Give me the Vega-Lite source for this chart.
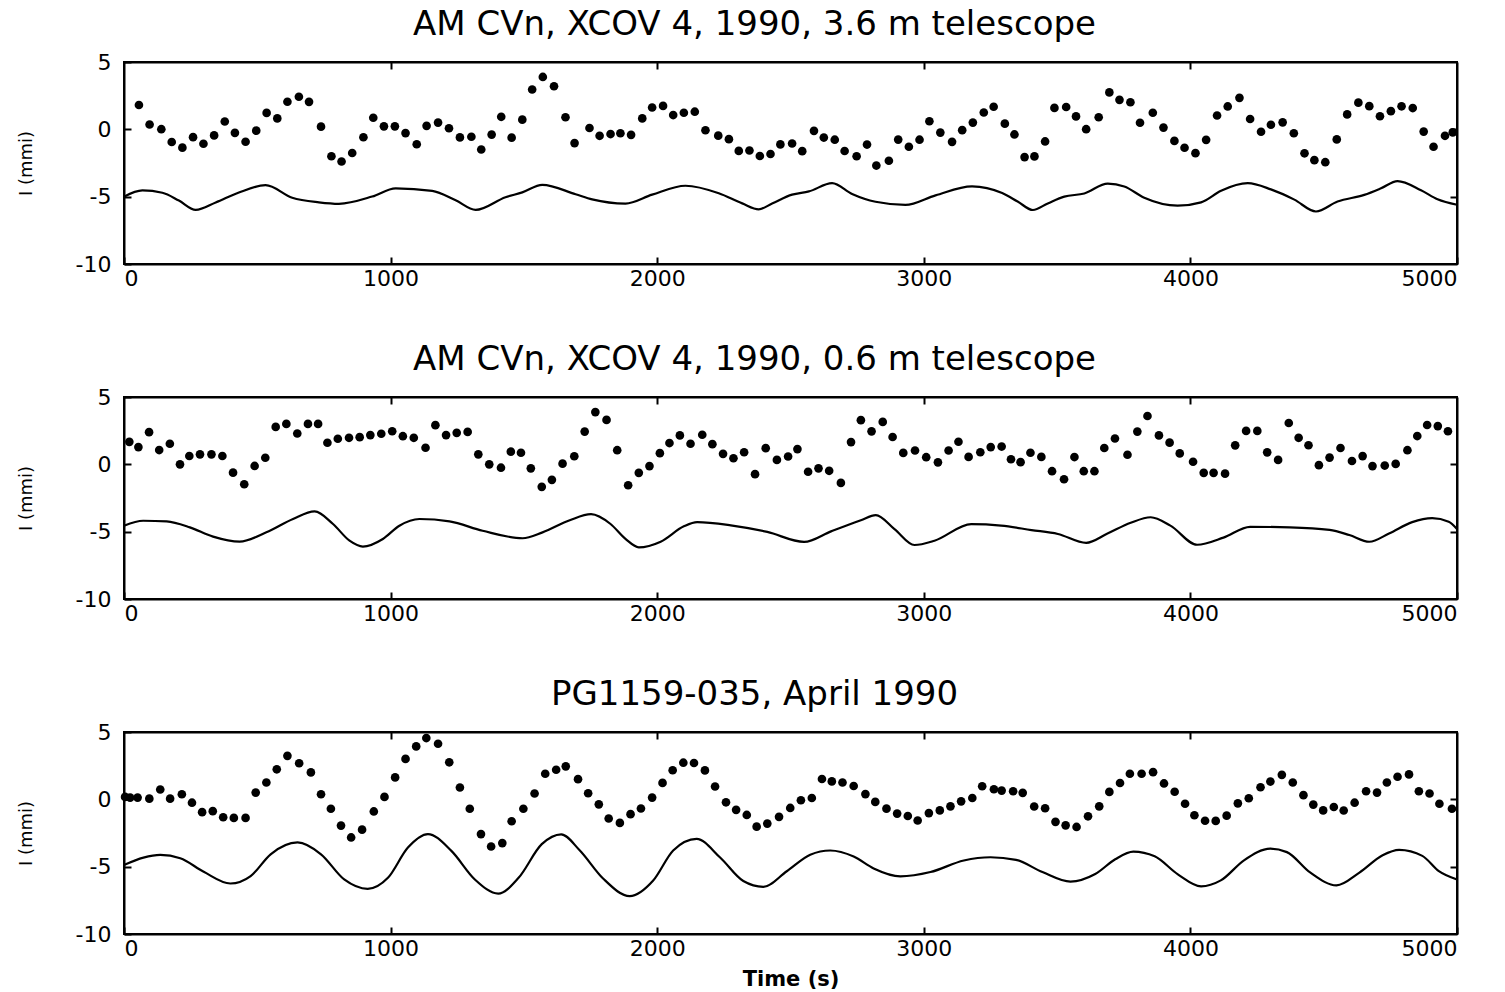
{
  "$schema": "https://vega.github.io/schema/vega-lite/v6.json",
  "background": "white",
  "padding": {"left": 16, "right": 30, "top": 7, "bottom": 0},
  "config": {
    "font": "DejaVu Sans",
    "view": {"stroke": "black", "strokeWidth": 2},
    "axis": {
      "grid": false,
      "domainColor": "black",
      "domainWidth": 2,
      "tickColor": "black",
      "tickWidth": 2,
      "labelColor": "black",
      "labelFont": "DejaVu Sans",
      "labelFontSize": 22,
      "titleColor": "black",
      "titleFont": "DejaVu Sans"
    },
    "title": {"font": "DejaVu Sans", "fontSize": 34, "fontWeight": "normal", "color": "black", "anchor": "middle", "dx": -36, "offset": 9}
  },
  "datasets": {
    "amcvn36_points": [
      {"t":56,"I":1.81},{"t":96,"I":0.36},{"t":140,"I":0.01},{"t":179,"I":-0.94},{"t":219,"I":-1.36},{"t":259,"I":-0.58},{"t":298,"I":-1.07},{"t":338,"I":-0.45},{"t":378,"I":0.58},{"t":416,"I":-0.26},
      {"t":456,"I":-0.92},{"t":496,"I":-0.1},{"t":535,"I":1.22},{"t":575,"I":0.81},{"t":613,"I":2.05},{"t":656,"I":2.42},{"t":694,"I":2.04},{"t":739,"I":0.2},{"t":778,"I":-2.0},{"t":816,"I":-2.39},
      {"t":856,"I":-1.76},{"t":898,"I":-0.59},{"t":935,"I":0.86},{"t":975,"I":0.22},{"t":1016,"I":0.22},{"t":1056,"I":-0.28},{"t":1098,"I":-1.11},{"t":1135,"I":0.26},{"t":1178,"I":0.5},{"t":1219,"I":0.08},
      {"t":1260,"I":-0.6},{"t":1303,"I":-0.55},{"t":1340,"I":-1.5},{"t":1379,"I":-0.39},{"t":1415,"I":0.93},{"t":1454,"I":-0.62},{"t":1494,"I":0.72},{"t":1531,"I":2.96},{"t":1571,"I":3.89},{"t":1613,"I":3.2},
      {"t":1656,"I":0.9},{"t":1690,"I":-1.02},{"t":1746,"I":0.1},{"t":1784,"I":-0.48},{"t":1825,"I":-0.35},{"t":1862,"I":-0.29},{"t":1902,"I":-0.41},{"t":1944,"I":0.81},{"t":1981,"I":1.62},{"t":2022,"I":1.74},
      {"t":2060,"I":1.06},{"t":2100,"I":1.23},{"t":2141,"I":1.31},{"t":2181,"I":-0.07},{"t":2229,"I":-0.47},{"t":2269,"I":-0.73},{"t":2306,"I":-1.6},{"t":2346,"I":-1.57},{"t":2385,"I":-1.98},{"t":2425,"I":-1.83},
      {"t":2462,"I":-1.12},{"t":2506,"I":-1.05},{"t":2544,"I":-1.62},{"t":2588,"I":-0.11},{"t":2625,"I":-0.61},{"t":2666,"I":-0.77},{"t":2703,"I":-1.61},{"t":2748,"I":-2.0},{"t":2787,"I":-1.13},{"t":2822,"I":-2.69},
      {"t":2869,"I":-2.33},{"t":2904,"I":-0.76},{"t":2944,"I":-1.29},{"t":2984,"I":-0.77},{"t":3021,"I":0.6},{"t":3062,"I":-0.24},{"t":3106,"I":-0.93},{"t":3144,"I":-0.06},{"t":3184,"I":0.5},{"t":3225,"I":1.25},
      {"t":3262,"I":1.68},{"t":3304,"I":0.42},{"t":3340,"I":-0.38},{"t":3378,"I":-2.06},{"t":3415,"I":-2.01},{"t":3455,"I":-0.9},{"t":3490,"I":1.59},{"t":3534,"I":1.66},{"t":3571,"I":0.96},{"t":3609,"I":0.01},
      {"t":3656,"I":0.9},{"t":3696,"I":2.74},{"t":3734,"I":2.19},{"t":3775,"I":2.01},{"t":3811,"I":0.49},{"t":3859,"I":1.23},{"t":3899,"I":0.13},{"t":3940,"I":-0.86},{"t":3978,"I":-1.37},{"t":4019,"I":-1.77},
      {"t":4059,"I":-0.78},{"t":4100,"I":1.03},{"t":4140,"I":1.7},{"t":4184,"I":2.34},{"t":4224,"I":0.77},{"t":4265,"I":-0.18},{"t":4302,"I":0.34},{"t":4346,"I":0.52},{"t":4388,"I":-0.29},{"t":4428,"I":-1.78},
      {"t":4465,"I":-2.29},{"t":4506,"I":-2.44},{"t":4549,"I":-0.75},{"t":4588,"I":1.11},{"t":4630,"I":1.98},{"t":4671,"I":1.72},{"t":4711,"I":0.97},{"t":4752,"I":1.35},{"t":4792,"I":1.71},{"t":4834,"I":1.58},
      {"t":4875,"I":-0.17},{"t":4912,"I":-1.29},{"t":4955,"I":-0.48},{"t":4984,"I":-0.23}
    ],
    "amcvn36_curve": [
      {"t":0,"I":-5.0},{"t":69,"I":-4.54},{"t":144,"I":-4.71},{"t":206,"I":-5.29},{"t":269,"I":-5.98},{"t":344,"I":-5.43},{"t":431,"I":-4.69},{"t":531,"I":-4.15},{"t":631,"I":-5.08},{"t":731,"I":-5.42},
      {"t":806,"I":-5.53},{"t":931,"I":-4.99},{"t":1019,"I":-4.38},{"t":1156,"I":-4.57},{"t":1244,"I":-5.27},{"t":1319,"I":-5.98},{"t":1431,"I":-5.04},{"t":1494,"I":-4.68},{"t":1569,"I":-4.12},{"t":1694,"I":-4.82},
      {"t":1756,"I":-5.2},{"t":1881,"I":-5.51},{"t":1981,"I":-4.85},{"t":2106,"I":-4.19},{"t":2231,"I":-4.75},{"t":2319,"I":-5.5},{"t":2381,"I":-5.94},{"t":2431,"I":-5.51},{"t":2506,"I":-4.85},{"t":2569,"I":-4.61},
      {"t":2656,"I":-4.0},{"t":2731,"I":-4.8},{"t":2819,"I":-5.38},{"t":2931,"I":-5.61},{"t":3044,"I":-4.9},{"t":3181,"I":-4.23},{"t":3294,"I":-4.73},{"t":3352,"I":-5.36},{"t":3409,"I":-5.99},{"t":3465,"I":-5.5},
      {"t":3527,"I":-5.0},{"t":3602,"I":-4.76},{"t":3690,"I":-4.03},{"t":3752,"I":-4.24},{"t":3827,"I":-5.08},{"t":3952,"I":-5.67},{"t":4040,"I":-5.42},{"t":4115,"I":-4.56},{"t":4215,"I":-4.0},{"t":4302,"I":-4.46},
      {"t":4390,"I":-5.22},{"t":4471,"I":-6.1},{"t":4552,"I":-5.36},{"t":4652,"I":-4.87},{"t":4715,"I":-4.38},{"t":4777,"I":-3.84},{"t":4865,"I":-4.52},{"t":4927,"I":-5.19},{"t":5000,"I":-5.6}
    ],
    "amcvn06_points": [
      {"t":20,"I":1.67},{"t":54,"I":1.28},{"t":94,"I":2.39},{"t":132,"I":1.06},{"t":172,"I":1.53},{"t":210,"I":0.0},{"t":245,"I":0.62},{"t":285,"I":0.74},{"t":328,"I":0.74},{"t":369,"I":0.62},
      {"t":409,"I":-0.62},{"t":451,"I":-1.48},{"t":490,"I":-0.12},{"t":530,"I":0.49},{"t":569,"I":2.78},{"t":609,"I":3.0},{"t":650,"I":2.29},{"t":690,"I":3.0},{"t":728,"I":3.0},{"t":763,"I":1.6},
      {"t":802,"I":1.9},{"t":844,"I":1.97},{"t":884,"I":2.02},{"t":924,"I":2.17},{"t":965,"I":2.27},{"t":1006,"I":2.46},{"t":1046,"I":2.09},{"t":1087,"I":1.97},{"t":1131,"I":1.23},{"t":1168,"I":2.91},
      {"t":1208,"I":2.17},{"t":1248,"I":2.34},{"t":1289,"I":2.41},{"t":1329,"I":0.74},{"t":1370,"I":0.0},{"t":1414,"I":-0.25},{"t":1451,"I":0.94},{"t":1489,"I":0.86},{"t":1526,"I":-0.3},{"t":1567,"I":-1.67},
      {"t":1605,"I":-1.15},{"t":1645,"I":0.05},{"t":1689,"I":0.6},{"t":1728,"I":2.43},{"t":1768,"I":3.88},{"t":1810,"I":3.3},{"t":1850,"I":1.05},{"t":1891,"I":-1.55},{"t":1931,"I":-0.63},{"t":1971,"I":-0.13},
      {"t":2010,"I":0.83},{"t":2046,"I":1.58},{"t":2085,"I":2.15},{"t":2125,"I":1.53},{"t":2169,"I":2.2},{"t":2207,"I":1.5},{"t":2247,"I":0.78},{"t":2286,"I":0.45},{"t":2326,"I":0.9},{"t":2367,"I":-0.73},
      {"t":2407,"I":1.2},{"t":2449,"I":0.33},{"t":2491,"I":0.58},{"t":2526,"I":1.13},{"t":2566,"I":-0.55},{"t":2605,"I":-0.3},{"t":2645,"I":-0.48},{"t":2689,"I":-1.38},{"t":2727,"I":1.65},{"t":2764,"I":3.28},
      {"t":2804,"I":2.45},{"t":2846,"I":3.15},{"t":2883,"I":2.03},{"t":2923,"I":0.85},{"t":2967,"I":1.03},{"t":3009,"I":0.53},{"t":3053,"I":0.15},{"t":3093,"I":1.03},{"t":3130,"I":1.68},{"t":3168,"I":0.55},
      {"t":3212,"I":0.9},{"t":3251,"I":1.28},{"t":3292,"I":1.32},{"t":3327,"I":0.38},{"t":3363,"I":0.16},{"t":3400,"I":0.86},{"t":3441,"I":0.55},{"t":3481,"I":-0.51},{"t":3526,"I":-1.11},{"t":3565,"I":0.54},
      {"t":3600,"I":-0.51},{"t":3640,"I":-0.51},{"t":3677,"I":1.21},{"t":3717,"I":1.92},{"t":3764,"I":0.71},{"t":3801,"I":2.43},{"t":3839,"I":3.59},{"t":3882,"I":2.15},{"t":3922,"I":1.61},{"t":3960,"I":0.81},
      {"t":4010,"I":0.19},{"t":4050,"I":-0.63},{"t":4087,"I":-0.63},{"t":4130,"I":-0.69},{"t":4168,"I":1.41},{"t":4209,"I":2.48},{"t":4251,"I":2.48},{"t":4288,"I":0.89},{"t":4329,"I":0.33},{"t":4369,"I":3.07},
      {"t":4406,"I":1.97},{"t":4443,"I":1.42},{"t":4482,"I":-0.06},{"t":4522,"I":0.5},{"t":4563,"I":1.21},{"t":4606,"I":0.25},{"t":4646,"I":0.61},{"t":4683,"I":-0.13},{"t":4729,"I":-0.09},{"t":4770,"I":0.03},
      {"t":4814,"I":1.05},{"t":4851,"I":2.1},{"t":4888,"I":2.92},{"t":4928,"I":2.84},{"t":4966,"I":2.46}
    ],
    "amcvn06_curve": [
      {"t":0,"I":-4.56},{"t":72,"I":-4.19},{"t":160,"I":-4.24},{"t":247,"I":-4.68},{"t":334,"I":-5.37},{"t":434,"I":-5.74},{"t":534,"I":-5.05},{"t":634,"I":-4.06},{"t":715,"I":-3.5},{"t":784,"I":-4.43},
      {"t":846,"I":-5.67},{"t":896,"I":-6.11},{"t":971,"I":-5.54},{"t":1033,"I":-4.56},{"t":1108,"I":-4.06},{"t":1221,"I":-4.24},{"t":1345,"I":-4.93},{"t":1495,"I":-5.49},{"t":1570,"I":-5.05},{"t":1672,"I":-4.15},
      {"t":1752,"I":-3.7},{"t":1825,"I":-4.43},{"t":1881,"I":-5.54},{"t":1931,"I":-6.16},{"t":2013,"I":-5.74},{"t":2100,"I":-4.6},{"t":2150,"I":-4.29},{"t":2276,"I":-4.53},{"t":2413,"I":-5.02},{"t":2551,"I":-5.76},
      {"t":2652,"I":-4.98},{"t":2764,"I":-4.15},{"t":2820,"I":-3.77},{"t":2890,"I":-4.81},{"t":2965,"I":-5.99},{"t":3040,"I":-5.67},{"t":3178,"I":-4.44},{"t":3290,"I":-4.55},{"t":3404,"I":-4.88},{"t":3503,"I":-5.17},
      {"t":3609,"I":-5.83},{"t":3689,"I":-5.14},{"t":3776,"I":-4.34},{"t":3851,"I":-3.93},{"t":3925,"I":-4.55},{"t":4025,"I":-5.97},{"t":4124,"I":-5.44},{"t":4224,"I":-4.64},{"t":4373,"I":-4.68},{"t":4522,"I":-4.87},
      {"t":4596,"I":-5.25},{"t":4671,"I":-5.75},{"t":4745,"I":-5.14},{"t":4832,"I":-4.29},{"t":4907,"I":-4.0},{"t":4969,"I":-4.26},{"t":5000,"I":-4.8}
    ],
    "pg1159_points": [
      {"t":4,"I":0.18},{"t":23,"I":0.13},{"t":51,"I":0.13},{"t":95,"I":0.05},{"t":136,"I":0.73},{"t":173,"I":0.05},{"t":217,"I":0.38},{"t":255,"I":-0.25},{"t":293,"I":-0.95},{"t":333,"I":-0.88},
      {"t":372,"I":-1.33},{"t":412,"I":-1.38},{"t":456,"I":-1.38},{"t":494,"I":0.5},{"t":534,"I":1.25},{"t":573,"I":2.23},{"t":613,"I":3.23},{"t":657,"I":2.68},{"t":701,"I":2.0},{"t":739,"I":0.38},
      {"t":776,"I":-0.7},{"t":814,"I":-1.95},{"t":852,"I":-2.83},{"t":893,"I":-2.25},{"t":937,"I":-0.9},{"t":977,"I":0.18},{"t":1017,"I":1.63},{"t":1056,"I":3.0},{"t":1096,"I":3.93},{"t":1134,"I":4.55},
      {"t":1178,"I":4.13},{"t":1220,"I":2.75},{"t":1260,"I":0.88},{"t":1297,"I":-0.7},{"t":1339,"I":-2.58},{"t":1377,"I":-3.5},{"t":1419,"I":-3.25},{"t":1454,"I":-1.63},{"t":1498,"I":-0.7},{"t":1540,"I":0.43},
      {"t":1580,"I":1.9},{"t":1621,"I":2.2},{"t":1657,"I":2.45},{"t":1703,"I":1.5},{"t":1741,"I":0.45},{"t":1781,"I":-0.37},{"t":1818,"I":-1.42},{"t":1860,"I":-1.75},{"t":1900,"I":-1.1},{"t":1939,"I":-0.68},
      {"t":1981,"I":0.13},{"t":2020,"I":1.22},{"t":2058,"I":2.16},{"t":2098,"I":2.72},{"t":2138,"I":2.7},{"t":2179,"I":2.15},{"t":2217,"I":0.95},{"t":2258,"I":-0.22},{"t":2296,"I":-0.78},{"t":2336,"I":-1.16},
      {"t":2373,"I":-2.03},{"t":2413,"I":-1.8},{"t":2457,"I":-1.3},{"t":2499,"I":-0.64},{"t":2539,"I":-0.07},{"t":2580,"I":0.1},{"t":2618,"I":1.51},{"t":2655,"I":1.33},{"t":2695,"I":1.25},{"t":2737,"I":0.99},
      {"t":2781,"I":0.39},{"t":2818,"I":-0.19},{"t":2860,"I":-0.69},{"t":2900,"I":-1.06},{"t":2940,"I":-1.24},{"t":2977,"I":-1.57},{"t":3019,"I":-1.02},{"t":3060,"I":-0.82},{"t":3100,"I":-0.52},{"t":3140,"I":-0.15},
      {"t":3182,"I":0.1},{"t":3219,"I":0.97},{"t":3263,"I":0.75},{"t":3292,"I":0.65},{"t":3335,"I":0.6},{"t":3371,"I":0.48},{"t":3414,"I":-0.53},{"t":3455,"I":-0.66},{"t":3494,"I":-1.67},{"t":3532,"I":-1.93},
      {"t":3573,"I":-2.05},{"t":3616,"I":-1.26},{"t":3658,"I":-0.52},{"t":3696,"I":0.55},{"t":3736,"I":1.21},{"t":3773,"I":1.9},{"t":3817,"I":1.9},{"t":3860,"I":2.02},{"t":3901,"I":1.18},{"t":3941,"I":0.56},
      {"t":3980,"I":-0.33},{"t":4015,"I":-1.18},{"t":4055,"I":-1.59},{"t":4095,"I":-1.6},{"t":4136,"I":-1.21},{"t":4178,"I":-0.3},{"t":4219,"I":0.08},{"t":4263,"I":0.9},{"t":4300,"I":1.32},{"t":4343,"I":1.82},
      {"t":4384,"I":1.25},{"t":4424,"I":0.31},{"t":4461,"I":-0.39},{"t":4498,"I":-0.82},{"t":4538,"I":-0.57},{"t":4575,"I":-0.83},{"t":4616,"I":-0.25},{"t":4659,"I":0.6},{"t":4700,"I":0.5},{"t":4737,"I":1.25},
      {"t":4777,"I":1.68},{"t":4820,"I":1.85},{"t":4857,"I":0.6},{"t":4897,"I":0.43},{"t":4934,"I":-0.33},{"t":4981,"I":-0.7}
    ],
    "pg1159_curve": [
      {"t":0,"I":-4.88},{"t":73,"I":-4.33},{"t":136,"I":-4.13},{"t":211,"I":-4.38},{"t":299,"I":-5.38},{"t":399,"I":-6.25},{"t":475,"I":-5.7},{"t":550,"I":-4.08},{"t":651,"I":-3.2},{"t":739,"I":-4.08},
      {"t":826,"I":-5.95},{"t":914,"I":-6.65},{"t":990,"I":-5.83},{"t":1065,"I":-3.58},{"t":1140,"I":-2.58},{"t":1228,"I":-3.83},{"t":1316,"I":-5.95},{"t":1404,"I":-7.0},{"t":1480,"I":-5.83},{"t":1567,"I":-3.33},
      {"t":1640,"I":-2.6},{"t":1709,"I":-3.78},{"t":1797,"I":-5.88},{"t":1897,"I":-7.19},{"t":1985,"I":-6.03},{"t":2060,"I":-3.8},{"t":2148,"I":-2.94},{"t":2236,"I":-4.32},{"t":2323,"I":-6.07},{"t":2398,"I":-6.5},
      {"t":2486,"I":-5.34},{"t":2574,"I":-4.11},{"t":2649,"I":-3.8},{"t":2737,"I":-4.25},{"t":2812,"I":-5.13},{"t":2912,"I":-5.72},{"t":3025,"I":-5.4},{"t":3150,"I":-4.54},{"t":3250,"I":-4.3},{"t":3346,"I":-4.5},
      {"t":3445,"I":-5.4},{"t":3550,"I":-6.11},{"t":3643,"I":-5.55},{"t":3718,"I":-4.45},{"t":3786,"I":-3.88},{"t":3866,"I":-4.23},{"t":3953,"I":-5.57},{"t":4040,"I":-6.46},{"t":4114,"I":-6.02},{"t":4201,"I":-4.53},
      {"t":4300,"I":-3.66},{"t":4362,"I":-3.92},{"t":4449,"I":-5.43},{"t":4548,"I":-6.39},{"t":4634,"I":-5.44},{"t":4721,"I":-4.15},{"t":4783,"I":-3.75},{"t":4870,"I":-4.2},{"t":4932,"I":-5.33},{"t":5000,"I":-5.95}
    ]
  },
  "concat": [
    {
      "title": {"text": "AM CVn, XCOV 4, 1990, 3.6 m telescope"},
      "width": 1333,
      "height": 202,
      "layer": [
        {
          "data": {"name": "amcvn36_points"},
          "mark": {"type": "circle", "size": 75, "color": "black", "opacity": 1},
          "encoding": {
            "x": {"field": "t", "type": "quantitative", "scale": {"domain": [0, 5000], "nice": false, "zero": false},
                  "axis": {"orient": "bottom", "values": [0, 1000, 2000, 3000, 4000, 5000], "format": "d", "tickSize": -7, "labelPadding": 11, "title": null}},
            "y": {"field": "I", "type": "quantitative", "scale": {"domain": [-10, 5], "nice": false, "zero": false},
                  "axis": {"orient": "left", "values": [5, 0, -5, -10], "format": "d", "labelExpr": "replace(datum.label, '\u2212', '-')", "tickSize": -7, "labelPadding": 20, "title": "I (mmi)", "titleFontSize": 18, "titleFontWeight": "normal", "titlePadding": 40}}
          }
        },
        {
          "data": {"name": "amcvn36_curve"},
          "mark": {"type": "line", "color": "black", "strokeWidth": 2.2, "interpolate": "monotone"},
          "encoding": {
            "x": {"field": "t", "type": "quantitative", "axis": {"orient": "top", "values": [1000, 2000, 3000, 4000], "labels": false, "tickSize": -7, "title": null}},
            "y": {"field": "I", "type": "quantitative", "axis": {"orient": "right", "values": [0, -5], "labels": false, "tickSize": -7, "title": null}}
          }
        }
      ],
      "resolve": {"axis": {"x": "independent", "y": "independent"}}
    },
    {
      "title": {"text": "AM CVn, XCOV 4, 1990, 0.6 m telescope"},
      "width": 1333,
      "height": 202,
      "layer": [
        {
          "data": {"name": "amcvn06_points"},
          "mark": {"type": "circle", "size": 75, "color": "black", "opacity": 1},
          "encoding": {
            "x": {"field": "t", "type": "quantitative", "scale": {"domain": [0, 5000], "nice": false, "zero": false},
                  "axis": {"orient": "bottom", "values": [0, 1000, 2000, 3000, 4000, 5000], "format": "d", "tickSize": -7, "labelPadding": 11, "title": null}},
            "y": {"field": "I", "type": "quantitative", "scale": {"domain": [-10, 5], "nice": false, "zero": false},
                  "axis": {"orient": "left", "values": [5, 0, -5, -10], "format": "d", "labelExpr": "replace(datum.label, '\u2212', '-')", "tickSize": -7, "labelPadding": 20, "title": "I (mmi)", "titleFontSize": 18, "titleFontWeight": "normal", "titlePadding": 40}}
          }
        },
        {
          "data": {"name": "amcvn06_curve"},
          "mark": {"type": "line", "color": "black", "strokeWidth": 2.2, "interpolate": "monotone"},
          "encoding": {
            "x": {"field": "t", "type": "quantitative", "axis": {"orient": "top", "values": [1000, 2000, 3000, 4000], "labels": false, "tickSize": -7, "title": null}},
            "y": {"field": "I", "type": "quantitative", "axis": {"orient": "right", "values": [0, -5], "labels": false, "tickSize": -7, "title": null}}
          }
        }
      ],
      "resolve": {"axis": {"x": "independent", "y": "independent"}}
    },
    {
      "title": {"text": "PG1159-035, April 1990"},
      "width": 1333,
      "height": 202,
      "layer": [
        {
          "data": {"name": "pg1159_points"},
          "mark": {"type": "circle", "size": 75, "color": "black", "opacity": 1},
          "encoding": {
            "x": {"field": "t", "type": "quantitative", "scale": {"domain": [0, 5000], "nice": false, "zero": false},
                  "axis": {"orient": "bottom", "values": [0, 1000, 2000, 3000, 4000, 5000], "format": "d", "tickSize": -7, "labelPadding": 11, "title": "Time  (s)", "titleFontSize": 21, "titleFontWeight": "bold", "titlePadding": 9}},
            "y": {"field": "I", "type": "quantitative", "scale": {"domain": [-10, 5], "nice": false, "zero": false},
                  "axis": {"orient": "left", "values": [5, 0, -5, -10], "format": "d", "labelExpr": "replace(datum.label, '\u2212', '-')", "tickSize": -7, "labelPadding": 20, "title": "I (mmi)", "titleFontSize": 18, "titleFontWeight": "normal", "titlePadding": 40}}
          }
        },
        {
          "data": {"name": "pg1159_curve"},
          "mark": {"type": "line", "color": "black", "strokeWidth": 2.2, "interpolate": "monotone"},
          "encoding": {
            "x": {"field": "t", "type": "quantitative", "axis": {"orient": "top", "values": [1000, 2000, 3000, 4000], "labels": false, "tickSize": -7, "title": null}},
            "y": {"field": "I", "type": "quantitative", "axis": {"orient": "right", "values": [0, -5], "labels": false, "tickSize": -7, "title": null}}
          }
        }
      ],
      "resolve": {"axis": {"x": "independent", "y": "independent"}}
    }
  ],
  "columns": 1,
  "spacing": 52
}
